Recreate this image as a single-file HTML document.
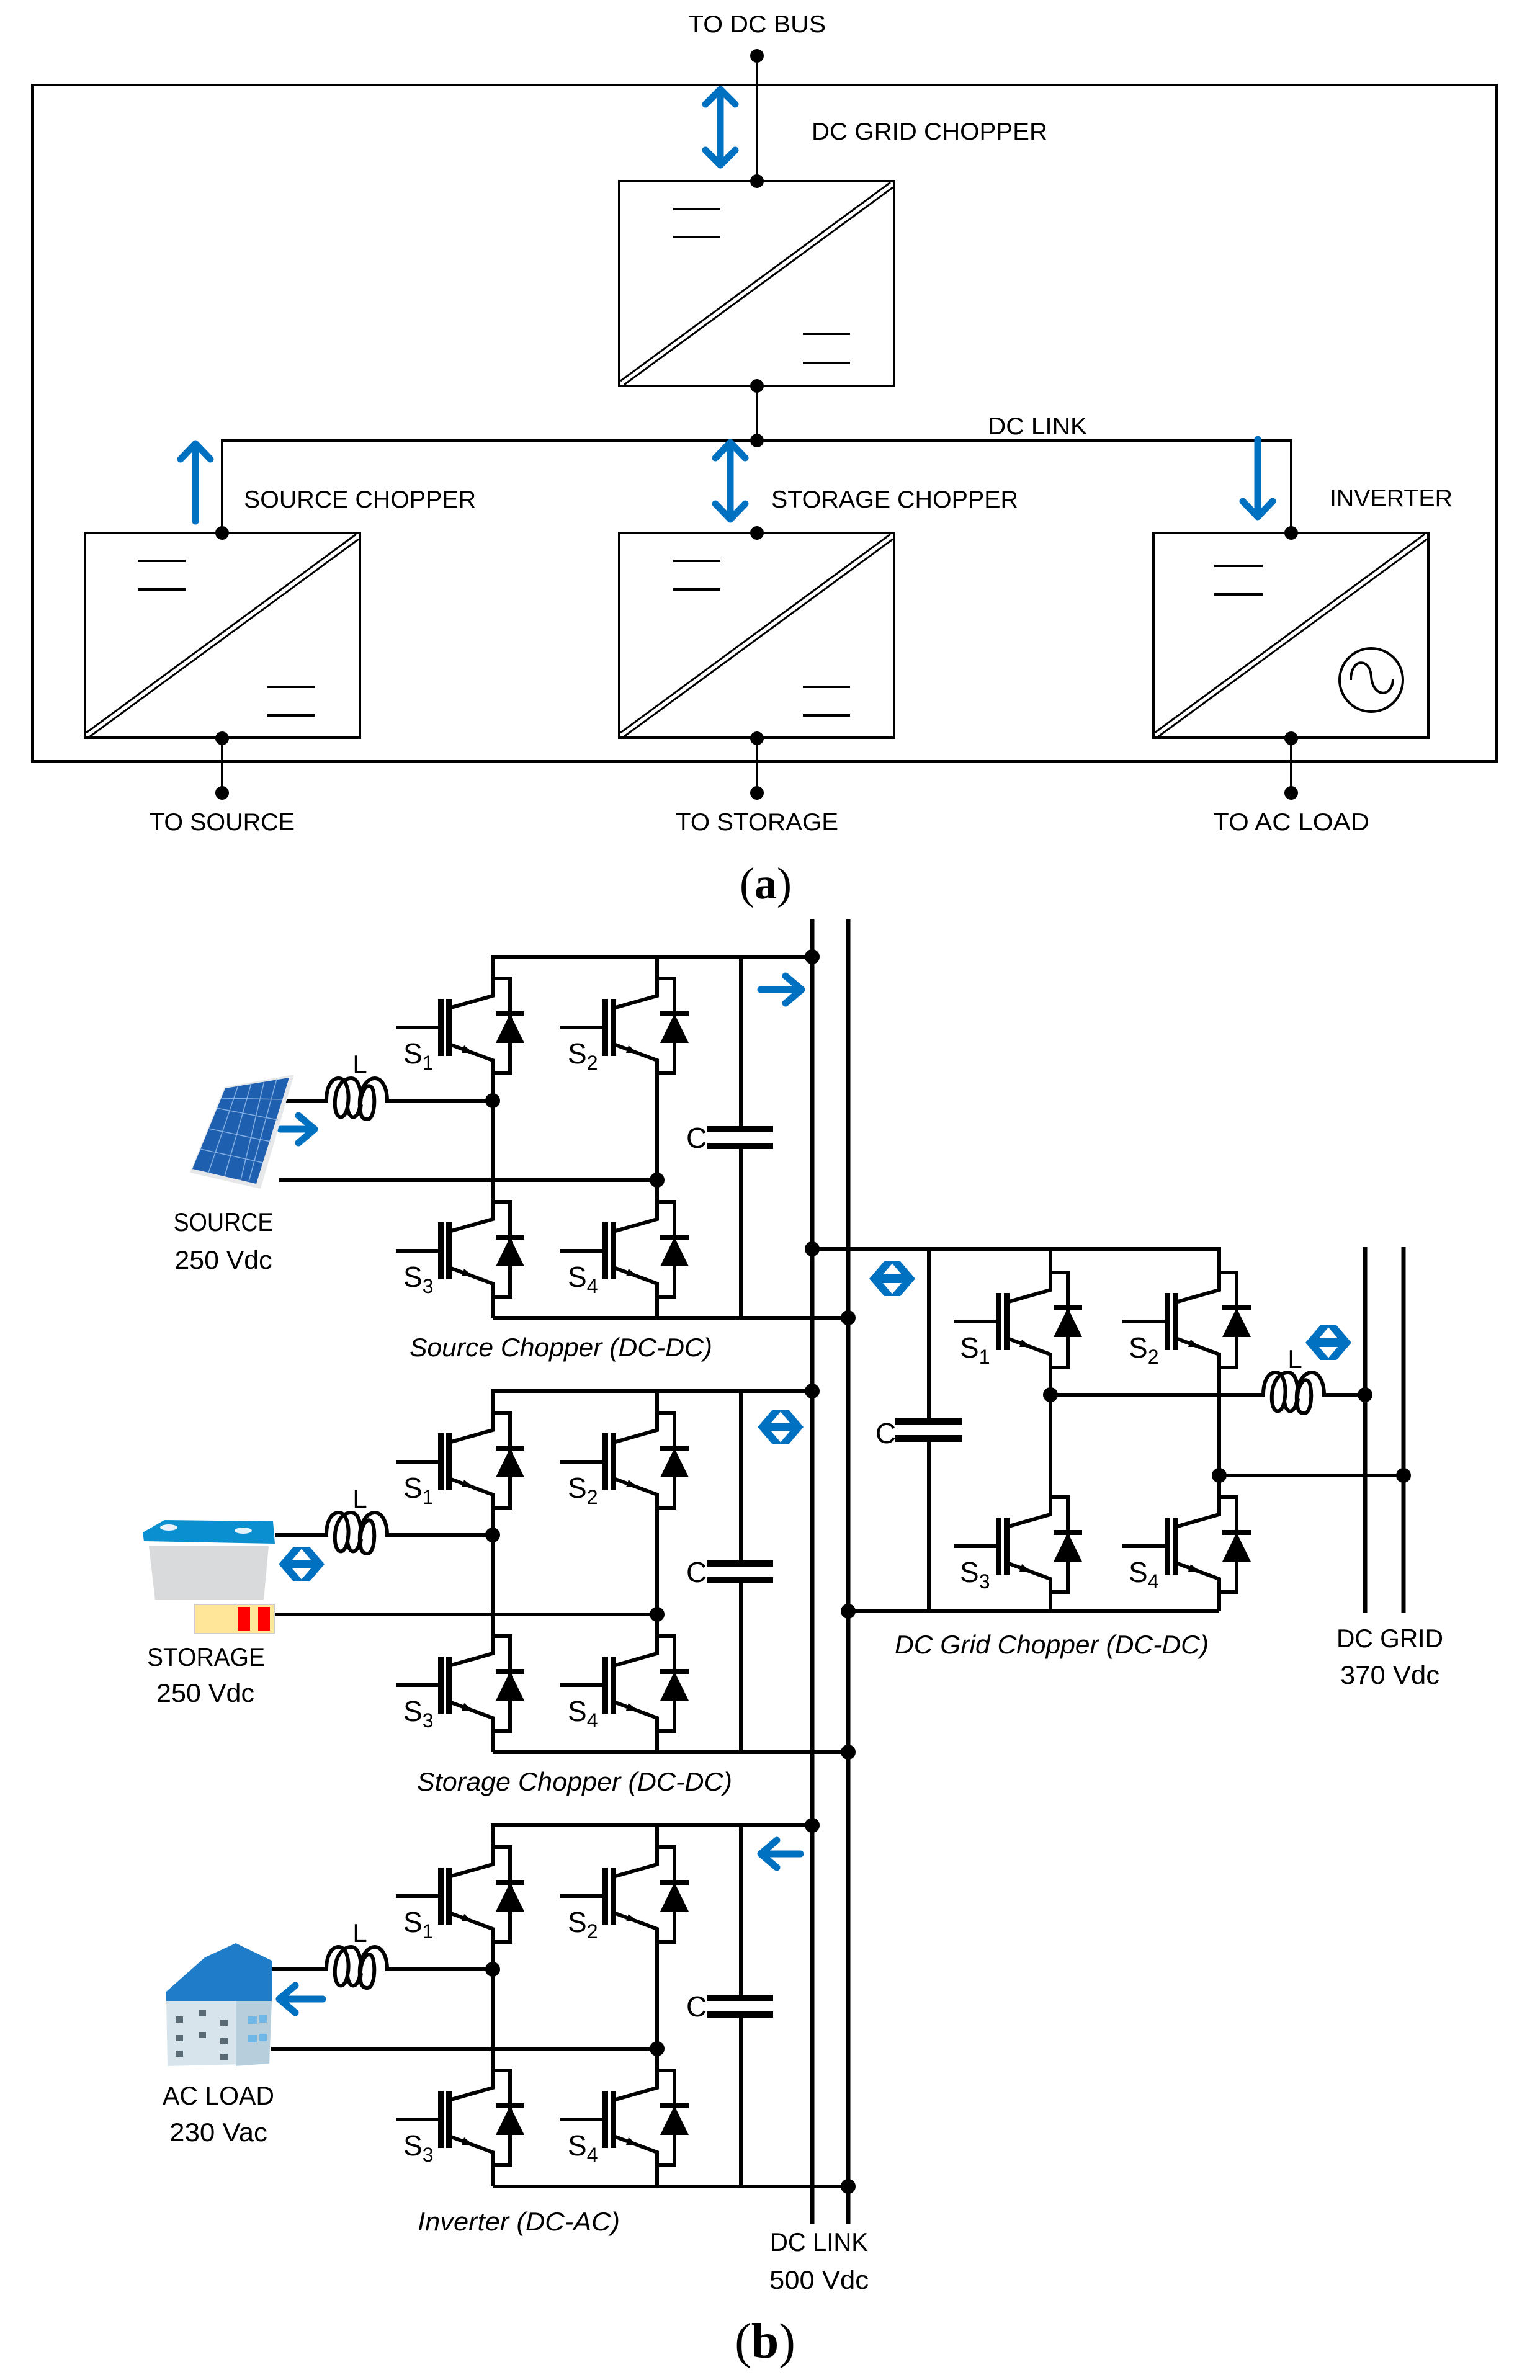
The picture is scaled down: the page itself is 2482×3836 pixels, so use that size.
<!DOCTYPE html>
<html><head><meta charset="utf-8"><style>
html,body{margin:0;padding:0;background:#fff}
svg{display:block}
text{font-family:"Liberation Sans",sans-serif;fill:#000}
</style></head><body>
<svg width="2482" height="3836" viewBox="0 0 2482 3836" xmlns="http://www.w3.org/2000/svg">
<defs>
<g id="sw" stroke="#000" stroke-width="6" fill="none">
<path d="M0,0 H28 V153 H0"/>
<path d="M0,-2 V28 L-67,47"/>
<path d="M-67,107 L0,132 V155"/>
<path d="M-156,79 H-86"/>
<rect x="5" y="53" width="46" height="8" fill="#000" stroke="none"/>
<polygon points="28,57 5,104 51,104" fill="#000" stroke="none"/>
<rect x="-88" y="33" width="9" height="92" fill="#000" stroke="none"/>
<rect x="-75" y="33" width="9" height="92" fill="#000" stroke="none"/>
<polygon points="-31,120 -50,120 -46,108" fill="#000" stroke="none"/>
</g>
<g id="coil" stroke="#000" stroke-width="6" fill="none">
<path d="M0,0 H6 C6,-22 14,-36 26,-36 C40,-36 44,-10 40,10 C36,32 22,32 20,10 C18,-20 32,-36 46,-36 C60,-36 64,-10 60,10 C56,32 42,32 40,10"/>
<path d="M60,10 C58,-20 72,-36 84,-36 C96,-36 104,-20 104,0 H110 M60,10 C62,-20 74,-30 80,-20 C86,-6 84,30 72,30 C60,30 60,16 62,6"/>
</g>
<g id="box">
<rect x="0" y="0" width="443" height="330" fill="none" stroke="#000" stroke-width="4"/>
<line x1="2" y1="322" x2="437" y2="2" stroke="#000" stroke-width="3"/>
<line x1="8" y1="328" x2="441" y2="10" stroke="#000" stroke-width="3"/>
</g>
<path id="dbl" d="M0,0 L24,-28 L40,-28 L22,-7 H52 L34,-28 H50 L74,0 L50,28 H34 L52,7 H22 L40,28 H24 Z"/>
</defs>

<!-- ===== (a) ===== -->
<rect x="52" y="137" width="2360" height="1090" fill="none" stroke="#000" stroke-width="4"/>
<g stroke="#000" stroke-width="4" fill="none">
<line x1="1220" y1="90" x2="1220" y2="292"/>
<line x1="1220" y1="622" x2="1220" y2="710"/>
<path d="M358,859 V710 H2081 V859"/>
<line x1="358" y1="1190" x2="358" y2="1278"/>
<line x1="1220" y1="1190" x2="1220" y2="1278"/>
<line x1="2081" y1="1190" x2="2081" y2="1278"/>
</g>
<use href="#box" x="998" y="292"/>
<use href="#box" x="137" y="859"/>
<use href="#box" x="998" y="859"/>
<use href="#box" x="1859" y="859"/>
<g stroke="#000" stroke-width="4">
<line x1="1085" y1="337" x2="1161" y2="337"/><line x1="1085" y1="382" x2="1161" y2="382"/>
<line x1="1294" y1="538" x2="1370" y2="538"/><line x1="1294" y1="585" x2="1370" y2="585"/>
<line x1="222" y1="904" x2="299" y2="904"/><line x1="222" y1="950" x2="299" y2="950"/>
<line x1="431" y1="1107" x2="507" y2="1107"/><line x1="431" y1="1153" x2="507" y2="1153"/>
<line x1="1085" y1="904" x2="1161" y2="904"/><line x1="1085" y1="950" x2="1161" y2="950"/>
<line x1="1294" y1="1107" x2="1370" y2="1107"/><line x1="1294" y1="1153" x2="1370" y2="1153"/>
<line x1="1957" y1="912" x2="2035" y2="912"/><line x1="1957" y1="958" x2="2035" y2="958"/>
</g>
<circle cx="2210" cy="1096" r="51" fill="none" stroke="#000" stroke-width="4"/>
<path d="M2177,1096 C2177,1060 2208,1060 2210,1090 C2212,1125 2245,1125 2245,1094" fill="none" stroke="#000" stroke-width="4"/>
<g fill="#000">
<circle cx="1220" cy="90" r="11"/><circle cx="1220" cy="292" r="11"/><circle cx="1220" cy="622" r="11"/><circle cx="1220" cy="710" r="11"/>
<circle cx="358" cy="859" r="11"/><circle cx="1220" cy="859" r="11"/><circle cx="2081" cy="859" r="11"/>
<circle cx="358" cy="1190" r="11"/><circle cx="1220" cy="1190" r="11"/><circle cx="2081" cy="1190" r="11"/>
<circle cx="358" cy="1278" r="11"/><circle cx="1220" cy="1278" r="11"/><circle cx="2081" cy="1278" r="11"/>
</g>
<g stroke="#0070C0" stroke-width="11" fill="none" stroke-linecap="round" stroke-linejoin="round">
<path d="M1161,145 V265 M1137,168 L1161,144 L1185,168 M1137,242 L1161,266 L1185,242"/>
<path d="M315,840 V716 M291,740 L315,715 L339,740"/>
<path d="M1177,714 V836 M1153,738 L1177,713 L1201,738 M1153,812 L1177,837 L1201,812"/>
<path d="M2027,708 V832 M2003,808 L2027,833 L2051,808"/>
</g>
<g font-size="39">
<text x="1220" y="52" text-anchor="middle" textLength="222" lengthAdjust="spacingAndGlyphs">TO DC BUS</text>
<text x="1308" y="225" textLength="380" lengthAdjust="spacingAndGlyphs">DC GRID CHOPPER</text>
<text x="1592" y="700" textLength="160" lengthAdjust="spacingAndGlyphs">DC LINK</text>
<text x="393" y="818" textLength="374" lengthAdjust="spacingAndGlyphs">SOURCE CHOPPER</text>
<text x="1243" y="818" textLength="398" lengthAdjust="spacingAndGlyphs">STORAGE CHOPPER</text>
<text x="2143" y="816" textLength="198" lengthAdjust="spacingAndGlyphs">INVERTER</text>
<text x="358" y="1338" text-anchor="middle" textLength="234" lengthAdjust="spacingAndGlyphs">TO SOURCE</text>
<text x="1220" y="1338" text-anchor="middle" textLength="262" lengthAdjust="spacingAndGlyphs">TO STORAGE</text>
<text x="2081" y="1338" text-anchor="middle" textLength="252" lengthAdjust="spacingAndGlyphs">TO AC LOAD</text>
</g>
<text x="1234" y="1448" text-anchor="middle" font-size="72" style="font-family:'Liberation Serif',serif">(<tspan font-weight="bold">a</tspan>)</text>

<!-- ===== (b) ===== -->
<g stroke="#000" stroke-width="7">
<line x1="1309" y1="1482" x2="1309" y2="3584"/>
<line x1="1367" y1="1482" x2="1367" y2="3584"/>
</g>

<g id="mod">
<g stroke="#000" stroke-width="6" fill="none">
<path d="M1309,1542 H794 V1577"/>
<line x1="794" y1="1730" x2="794" y2="1937"/>
<line x1="794" y1="2090" x2="794" y2="2124"/>
<path d="M1059,1542 V1577"/>
<line x1="1059" y1="1730" x2="1059" y2="1937"/>
<line x1="1059" y1="2090" x2="1059" y2="2124"/>
<line x1="794" y1="2124" x2="1367" y2="2124"/>
<line x1="1194" y1="1542" x2="1194" y2="1820"/>
<line x1="1194" y1="1847" x2="1194" y2="2124"/>
<line x1="628" y1="1774" x2="794" y2="1774"/>
</g>
<rect x="1140" y="1815" width="106" height="10" fill="#000"/>
<rect x="1140" y="1842" width="106" height="10" fill="#000"/>
<use href="#sw" x="794" y="1577"/><use href="#sw" x="1059" y="1577"/>
<use href="#sw" x="794" y="1937"/><use href="#sw" x="1059" y="1937"/>
<use href="#coil" x="520" y="1774"/>
<g fill="#000"><circle cx="794" cy="1774" r="12"/><circle cx="1059" cy="1902" r="12"/><circle cx="1309" cy="1542" r="12"/><circle cx="1367" cy="2124" r="12"/></g>
<g font-size="46">
<text x="1106" y="1850">C</text>
<text x="580" y="1730" text-anchor="middle" font-size="42">L</text>
<text x="650" y="1714">S<tspan font-size="32" dy="10">1</tspan></text>
<text x="915" y="1714">S<tspan font-size="32" dy="10">2</tspan></text>
<text x="650" y="2074">S<tspan font-size="32" dy="10">3</tspan></text>
<text x="915" y="2074">S<tspan font-size="32" dy="10">4</tspan></text>
</g>
</g>
<use href="#mod" x="0" y="700"/>
<use href="#mod" x="0" y="1400"/>

<g stroke="#000" stroke-width="6">
<line x1="450" y1="1902" x2="1059" y2="1902"/>
<line x1="442" y1="2602" x2="1059" y2="2602"/>
<line x1="437" y1="3302" x2="1059" y2="3302"/>
<line x1="460" y1="1774" x2="522" y2="1774"/>
<line x1="443" y1="2474" x2="522" y2="2474"/>
<line x1="420" y1="3174" x2="522" y2="3174"/>
</g>

<!-- DC grid chopper -->
<g stroke="#000" stroke-width="6" fill="none">
<path d="M1309,2013 H1965 V2051"/>
<path d="M1693,2013 V2051"/>
<line x1="1693" y1="2204" x2="1693" y2="2413"/>
<line x1="1965" y1="2204" x2="1965" y2="2413"/>
<line x1="1693" y1="2566" x2="1693" y2="2597"/>
<line x1="1965" y1="2566" x2="1965" y2="2597"/>
<line x1="1367" y1="2597" x2="1965" y2="2597"/>
<line x1="1497" y1="2013" x2="1497" y2="2292"/>
<line x1="1497" y1="2318" x2="1497" y2="2597"/>
<line x1="1693" y1="2248" x2="2030" y2="2248"/>
<line x1="2138" y1="2248" x2="2200" y2="2248"/>
<line x1="1965" y1="2378" x2="2262" y2="2378"/>
</g>
<g stroke="#000" stroke-width="7">
<line x1="2200" y1="2010" x2="2200" y2="2600"/>
<line x1="2262" y1="2010" x2="2262" y2="2600"/>
</g>
<rect x="1443" y="2286" width="108" height="11" fill="#000"/>
<rect x="1443" y="2313" width="108" height="11" fill="#000"/>
<use href="#sw" x="1693" y="2051"/><use href="#sw" x="1965" y="2051"/>
<use href="#sw" x="1693" y="2413"/><use href="#sw" x="1965" y="2413"/>
<use href="#coil" x="2030" y="2248"/>
<g fill="#000"><circle cx="1309" cy="2013" r="12"/><circle cx="1367" cy="2597" r="12"/><circle cx="1693" cy="2248" r="12"/><circle cx="1965" cy="2378" r="12"/><circle cx="2200" cy="2248" r="12"/><circle cx="2262" cy="2378" r="12"/></g>
<g font-size="46">
<text x="1411" y="2326">C</text>
<text x="2087" y="2205" text-anchor="middle" font-size="42">L</text>
<text x="1547" y="2188">S<tspan font-size="32" dy="10">1</tspan></text>
<text x="1819" y="2188">S<tspan font-size="32" dy="10">2</tspan></text>
<text x="1547" y="2550">S<tspan font-size="32" dy="10">3</tspan></text>
<text x="1819" y="2550">S<tspan font-size="32" dy="10">4</tspan></text>
</g>

<!-- blue arrows (b) -->
<g fill="none" stroke="#0070C0" stroke-width="11" stroke-linecap="round" stroke-linejoin="round">
<path d="M1226,1595 H1290 M1266,1573 L1292,1595 L1266,1617"/>
<path d="M452,1820 H505 M481,1798 L507,1820 L481,1842"/>
<path d="M1228,2988 H1290 M1252,2966 L1226,2988 L1252,3010"/>
<path d="M452,3222 H520 M476,3200 L450,3222 L476,3244"/>
</g>
<g fill="#0070C0">
<use href="#dbl" x="1221" y="2300"/>
<use href="#dbl" x="1401" y="2061"/>
<use href="#dbl" x="2104" y="2164"/>
<use href="#dbl" x="449" y="2521"/>
</g>

<!-- PV panel -->
<polygon points="306,1890 362,1752 474,1732 420,1916" fill="#e6e8ea"/>
<polygon points="310,1884 363,1754 466,1737 413,1908" fill="#1f5fb0"/>
<g stroke="#9cc3ee" stroke-width="1.5" opacity="0.8">
<line x1="323" y1="1852" x2="424" y2="1874"/><line x1="336" y1="1819" x2="436" y2="1840"/><line x1="349" y1="1786" x2="448" y2="1805"/><line x1="356" y1="1770" x2="456" y2="1772"/>
<line x1="336" y1="1890" x2="384" y2="1749"/><line x1="362" y1="1896" x2="405" y2="1746"/><line x1="388" y1="1902" x2="426" y2="1742"/><line x1="401" y1="1904" x2="446" y2="1739"/>
</g>
<!-- battery -->
<polygon points="240,2492 433,2492 425,2579 250,2579" fill="#d9dadc"/>
<polygon points="230,2470 265,2450 440,2452 443,2488 232,2484" fill="#0a8fd0"/>
<ellipse cx="272" cy="2462" rx="14" ry="5" fill="#e8f4fb"/>
<ellipse cx="392" cy="2467" rx="14" ry="5" fill="#e8f4fb"/>
<rect x="313" y="2586" width="129" height="47" fill="#FFE699" stroke="#ccc" stroke-width="2"/>
<rect x="383" y="2590" width="20" height="38" fill="#f00"/>
<rect x="416" y="2590" width="19" height="38" fill="#f00"/>
<!-- building -->
<polygon points="268,3210 330,3155 380,3132 438,3160 438,3225 268,3230" fill="#1e7cc8"/>
<polygon points="268,3225 438,3225 434,3326 270,3330" fill="#d7e4ec"/>
<polygon points="380,3225 438,3225 434,3326 380,3330" fill="#b7cfdc"/>
<g fill="#5a6a74">
<rect x="283" y="3250" width="12" height="10"/><rect x="320" y="3240" width="12" height="10"/><rect x="355" y="3255" width="12" height="10"/>
<rect x="283" y="3280" width="12" height="10"/><rect x="320" y="3275" width="12" height="10"/><rect x="355" y="3285" width="12" height="10"/>
<rect x="283" y="3305" width="12" height="10"/><rect x="355" y="3310" width="12" height="10"/>
</g>
<g fill="#6fb7e6"><rect x="400" y="3250" width="14" height="12"/><rect x="400" y="3280" width="14" height="12"/><rect x="418" y="3248" width="12" height="12"/><rect x="418" y="3278" width="12" height="12"/></g>

<!-- (b) labels -->
<g font-size="42">
<text x="360" y="1984" text-anchor="middle" textLength="161" lengthAdjust="spacingAndGlyphs">SOURCE</text>
<text x="360" y="2045" text-anchor="middle" textLength="157" lengthAdjust="spacingAndGlyphs">250 Vdc</text>
<text x="332" y="2685" text-anchor="middle" textLength="190" lengthAdjust="spacingAndGlyphs">STORAGE</text>
<text x="331" y="2743" text-anchor="middle" textLength="158" lengthAdjust="spacingAndGlyphs">250 Vdc</text>
<text x="352" y="3392" text-anchor="middle" textLength="180" lengthAdjust="spacingAndGlyphs">AC LOAD</text>
<text x="352" y="3451" text-anchor="middle" textLength="158" lengthAdjust="spacingAndGlyphs">230 Vac</text>
<text x="1320" y="3628" text-anchor="middle" textLength="158" lengthAdjust="spacingAndGlyphs">DC LINK</text>
<text x="1320" y="3689" text-anchor="middle" textLength="160" lengthAdjust="spacingAndGlyphs">500 Vdc</text>
<text x="2240" y="2655" text-anchor="middle" textLength="172" lengthAdjust="spacingAndGlyphs">DC GRID</text>
<text x="2240" y="2714" text-anchor="middle" textLength="160" lengthAdjust="spacingAndGlyphs">370 Vdc</text>
<g font-style="italic">
<text x="660" y="2186" textLength="488" lengthAdjust="spacingAndGlyphs">Source Chopper (DC-DC)</text>
<text x="672" y="2886" textLength="508" lengthAdjust="spacingAndGlyphs">Storage Chopper (DC-DC)</text>
<text x="673" y="3595" textLength="326" lengthAdjust="spacingAndGlyphs">Inverter (DC-AC)</text>
<text x="1442" y="2665" textLength="506" lengthAdjust="spacingAndGlyphs">DC Grid Chopper (DC-DC)</text>
</g>
</g>
<text x="1233" y="3800" text-anchor="middle" font-size="80" style="font-family:'Liberation Serif',serif">(<tspan font-weight="bold">b</tspan>)</text>
</svg>
</body></html>
